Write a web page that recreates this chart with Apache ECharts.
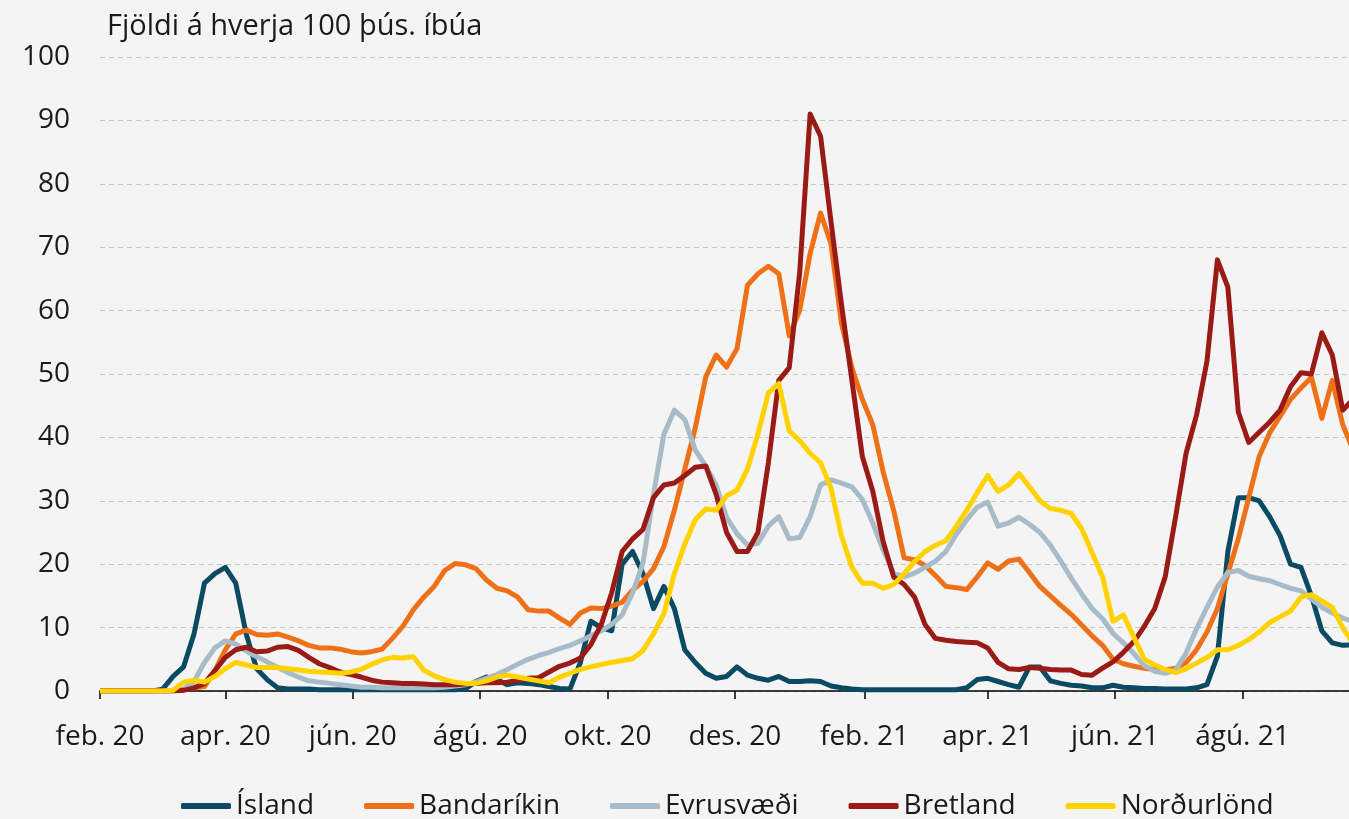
<!DOCTYPE html>
<html style="height: 100%">
    <head>
        <meta charset="utf-8">
    </head>
    <body style="height: 100%; margin: 0; background: #f4f4f4">
        <div id="container" style="width: 1349px; height: 819px;"></div>
        <script type="text/javascript" src="https://cdn.jsdelivr.net/npm/echarts@6/dist/echarts.min.js"></script>
        <script type="text/javascript">
// days since 1 feb 2020, one value every 5 days
const stepDays = 5;
const tickDays = [0, 60, 121, 182, 243, 304, 366, 425, 486, 547];
const tickLabels = ['feb. 20', 'apr. 20', 'jún. 20', 'ágú. 20', 'okt. 20', 'des. 20', 'feb. 21', 'apr. 21', 'jún. 21', 'ágú. 21'];
const seriesNames = ['Ísland', 'Bandaríkin', 'Evrusvæði', 'Bretland', 'Norðurlönd'];

const island = [
    0, 0, 0, 0, 0, 0, 0.3, 2.3, 3.8, 9, 17, 18.5, 19.5, 17, 9, 3.5, 1.8, 0.5, 0.3, 0.3,
    0.3, 0.2, 0.2, 0.2, 0.2, 0.2, 0.2, 0.2, 0.2, 0.2, 0.2, 0.2, 0.2, 0.2, 0.2, 0.3, 1.5, 2.2, 1.8, 1.0,
    1.3, 1.2, 1.0, 0.7, 0.4, 0.3, 4.5, 11, 10, 9.5, 20, 22, 18.5, 13, 16.5, 13, 6.5, 4.5, 2.8, 2.0,
    2.3, 3.8, 2.5, 2.0, 1.7, 2.3, 1.5, 1.5, 1.6, 1.5, 0.8, 0.5, 0.3, 0.2, 0.2, 0.2, 0.2, 0.2, 0.2, 0.2,
    0.2, 0.2, 0.2, 0.5, 1.8, 2.0, 1.5, 1.0, 0.6, 3.8, 3.8, 1.6, 1.2, 0.9, 0.8, 0.5, 0.5, 0.9, 0.6, 0.5,
    0.4, 0.4, 0.3, 0.3, 0.3, 0.5, 1.0, 5.5, 22, 30.5, 30.5, 30, 27.5, 24.5, 20, 19.5, 15, 9.5, 7.6, 7.2,
    7.3
];
const bandarikin = [
    0, 0, 0, 0, 0, 0, 0, 0.1, 0.2, 0.5, 0.7, 3.2, 6.5, 9, 9.6, 8.9, 8.8, 9.0, 8.5, 7.9,
    7.2, 6.8, 6.8, 6.6, 6.2, 6.0, 6.2, 6.6, 8.3, 10.2, 12.8, 14.8, 16.5, 19, 20.1, 19.9, 19.3, 17.5, 16.2, 15.8,
    14.8, 12.8, 12.6, 12.6, 11.5, 10.5, 12.3, 13.1, 13.0, 13.4, 14, 15.9, 17.3, 19.3, 22.8, 28.5, 35, 41.5, 49.5, 53,
    51.1, 54, 64, 65.8, 67, 65.8, 56, 60, 69, 75.4, 70.5, 58, 51, 46, 42, 34.5, 28.5, 21, 20.7, 19.8,
    18.2, 16.5, 16.3, 16, 18, 20.2, 19.2, 20.5, 20.8, 18.7, 16.5, 15, 13.5, 12.1, 10.4, 8.7, 7.2, 5.0, 4.3, 3.9,
    3.6, 3.4, 3.3, 3.6, 4.5, 6.5, 9.3, 13, 18.5, 24, 30.5, 37, 40.7, 43.3, 46, 47.8, 49.5, 43, 49, 42,
    38
];
const evrusvaedi = [
    0, 0, 0, 0, 0, 0, 0, 0, 0.3, 1.5, 4.5, 6.8, 7.9, 7.4, 6.3, 5.4, 4.6, 3.7, 2.9, 2.2,
    1.6, 1.4, 1.2, 1.0, 0.8, 0.6, 0.6, 0.5, 0.5, 0.5, 0.5, 0.5, 0.5, 0.6, 0.8, 1.0, 1.4, 2.0, 2.6, 3.4,
    4.2, 5.0, 5.6, 6.1, 6.7, 7.2, 7.9, 8.7, 9.5, 10.5, 12, 15.5, 20.2, 31, 40.5, 44.3, 42.8, 38, 35.5, 32.5,
    27.4, 24.8, 23, 23.3, 26, 27.5, 24, 24.2, 27.5, 32.5, 33.3, 32.8, 32.2, 30.2, 26.5, 22.2, 18.6, 18, 18.6, 19.5,
    20.5, 22, 24.7, 27, 29, 29.8, 26, 26.5, 27.4, 26.3, 25, 23, 20.5, 17.8, 15.3, 13, 11.4, 9.1, 7.6, 5.9,
    4.0, 3.1, 2.8, 3.3, 6.0, 9.8, 13.2, 16.4, 18.7, 19, 18.1, 17.7, 17.4, 16.8, 16.2, 15.8, 14.5, 13.2, 12.3, 11.5,
    11
];
const bretland = [
    0, 0, 0, 0, 0, 0, 0, 0, 0.1, 0.5, 1.2, 3.2, 5.3, 6.5, 6.9, 6.2, 6.3, 6.9, 7.0, 6.4,
    5.3, 4.3, 3.7, 3.0, 2.6, 2.2, 1.7, 1.4, 1.3, 1.2, 1.2, 1.1, 1.0, 1.0, 1.0, 1.1, 1.2, 1.3, 1.3, 1.4,
    1.7, 2.0, 2.1, 3.0, 3.9, 4.4, 5.2, 7.3, 10.5, 15.5, 22, 24, 25.5, 30.5, 32.5, 32.8, 34, 35.3, 35.5, 31,
    25, 22, 22, 25, 36, 49, 51, 66, 91, 87.5, 74, 61, 49, 37, 31.5, 23.5, 18, 16.8, 14.8, 10.5,
    8.3, 8.0, 7.8, 7.7, 7.6, 6.8, 4.5, 3.5, 3.4, 3.7, 3.6, 3.4, 3.3, 3.3, 2.6, 2.5, 3.6, 4.6, 6.1, 7.8,
    10.2, 13, 18, 27.5, 37.5, 43.5, 52, 68, 63.7, 44, 39.2, 40.8, 42.4, 44.3, 48, 50.2, 50, 56.5, 53, 44.3,
    46
];
const nordurlond = [
    0, 0, 0, 0, 0, 0, 0, 0.1, 1.4, 1.7, 1.4, 2.3, 3.5, 4.5, 4.1, 3.7, 3.7, 3.7, 3.5, 3.3,
    3.1, 3.0, 2.9, 2.8, 3.0, 3.4, 4.2, 4.9, 5.3, 5.2, 5.4, 3.3, 2.4, 1.8, 1.4, 1.2, 1.2, 1.6, 2.2, 2.5,
    2.2, 1.9, 1.6, 1.3, 2.2, 2.8, 3.4, 3.8, 4.2, 4.5, 4.8, 5.1, 6.4, 9, 12.2, 18.5, 23.2, 27, 28.7, 28.5,
    30.8, 31.7, 35, 40.5, 47, 48.5, 41, 39.5, 37.5, 36, 32, 24.5, 19.5, 17, 17, 16.2, 16.8, 18.5, 20.4, 22,
    23, 23.7, 26, 28.5, 31.3, 34, 31.5, 32.5, 34.3, 32.2, 30, 28.8, 28.5, 28, 25.6, 21.8, 18, 11, 12, 8.5,
    5, 4.1, 3.4, 2.9, 3.5, 4.4, 5.3, 6.5, 6.5, 7.2, 8.1, 9.3, 10.8, 11.7, 12.6, 14.8, 15.2, 14.2, 13.2, 10,
    7.5
];
const seriesValues = [island, bandarikin, evrusvaedi, bretland, nordurlond];
const seriesColors = ['#0b4a63', '#ee7118', '#a7bcc8', '#9a1a16', '#ffd200'];

const font = 'Open Sans';
const textColor = '#1a1a1a';

var dom = document.getElementById("container");
var myChart = echarts.init(dom);

var option = {
    backgroundColor: '#f4f4f4',
    textStyle: { fontFamily: font, color: textColor },
    grid: { left: 100, right: 0, top: 57, bottom: 128 },
    graphic: [{
        type: 'text',
        left: 107,
        top: 12,
        style: { text: 'Fjöldi á hverja 100 þús. íbúa', font: '29px ' + font, fill: textColor }
    }],
    legend: {
        left: 176,
        top: 787,
        icon: 'roundRect',
        itemWidth: 50,
        itemHeight: 6,
        itemGap: 50,
        textStyle: { fontSize: 28, fontFamily: font, color: textColor },
        data: seriesNames
    },
    xAxis: {
        type: 'value',
        min: 0,
        max: 598,
        axisLine: { lineStyle: { color: '#000', width: 1.5 } },
        axisTick: { customValues: tickDays, length: 8, lineStyle: { color: '#000', width: 1.5 } },
        axisLabel: {
            customValues: tickDays,
            margin: 32,
            fontSize: 28,
            fontFamily: font,
            color: textColor,
            formatter: function (v) {
                return tickLabels[tickDays.indexOf(v)];
            }
        },
        splitLine: { show: false }
    },
    yAxis: {
        type: 'value',
        min: 0,
        max: 100,
        interval: 10,
        axisLine: { show: false },
        axisTick: { show: false },
        axisLabel: { margin: 30, fontSize: 28, fontFamily: font, color: textColor },
        splitLine: { lineStyle: { color: '#c6c6c6', type: [5, 4], width: 1 } }
    },
    series: seriesNames.map(function (name, k) {
        return {
            name: name,
            type: 'line',
            showSymbol: false,
            symbol: 'none',
            color: seriesColors[k],
            lineStyle: { width: 5, color: seriesColors[k], join: 'round' },
            data: seriesValues[k].map(function (v, i) { return [i * stepDays, v]; }),
            animation: false
        };
    })
};

myChart.setOption(option);
        </script>
    </body>
</html>
